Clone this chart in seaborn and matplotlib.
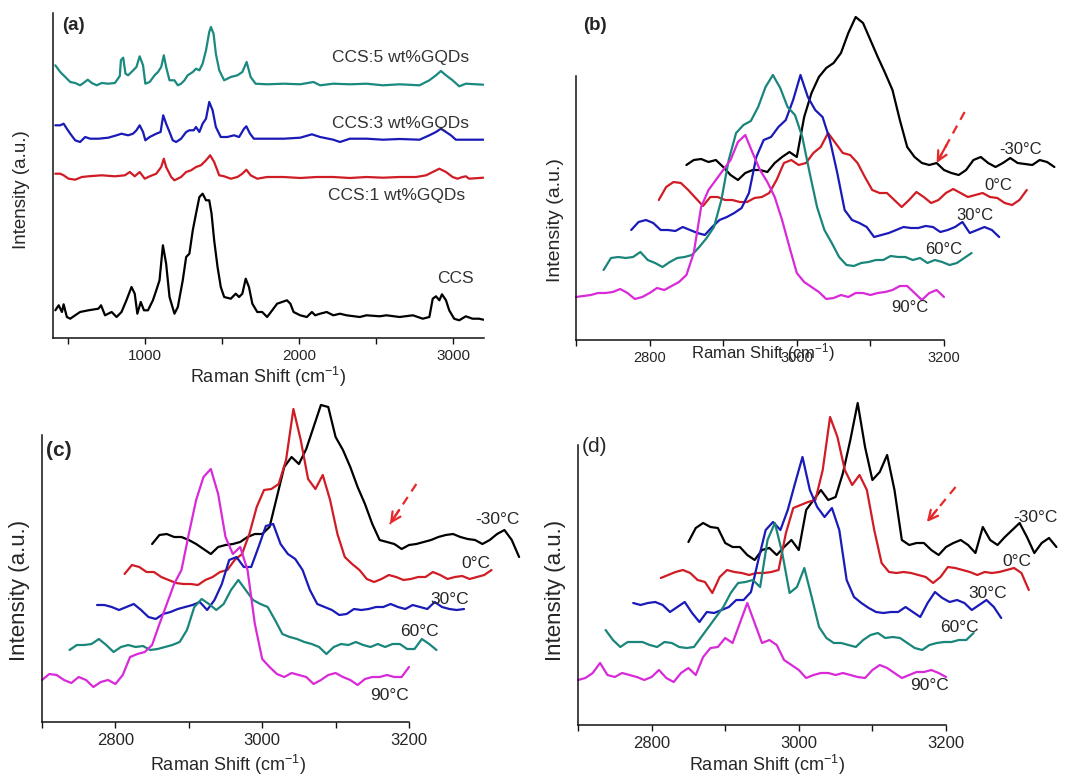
import numpy as np
import matplotlib
matplotlib.use("Agg")
import matplotlib.pyplot as plt
import seaborn as sns
from matplotlib import font_manager

# ------------------------------------------------------------------ data
# Panel (a): Raman spectra (x in cm-1, intensity in a.u., stacked as shown)
a_ccs_x = [415, 437, 458, 469, 490, 512, 544, 576, 630, 695, 712, 738, 781, 813, 845, 877, 910, 931, 948, 970,
           991, 1017, 1049, 1071, 1092, 1114, 1135, 1157, 1189, 1211, 1243, 1265, 1286, 1308, 1329, 1351, 1372, 1394, 1415, 1430,
           1447, 1469, 1490, 1512, 1555, 1587, 1609, 1630, 1652, 1673, 1695, 1727, 1759, 1791, 1824, 1856, 1888, 1920, 1942, 1963,
           2006, 2049, 2082, 2103, 2135, 2178, 2221, 2264, 2307, 2393, 2437, 2523, 2566, 2652, 2738, 2802, 2845, 2867, 2888, 2910,
           2927, 2953, 2974, 3006, 3039, 3082, 3125, 3168, 3196]
a_ccs_y = [27.7, 32.7, 26, 33.7, 21, 19.3, 22.7, 26, 27.7, 29.3, 32.7, 22.7, 26, 21, 26, 37.7, 51, 44.3, 24.3, 36,
           27.7, 27.7, 37.7, 47.7, 57.7, 92.7, 74.3, 41, 24.3, 31, 57.7, 81, 84.3, 107.7, 124.3, 141, 144.3, 137.7, 137.7, 124.3,
           97.7, 71, 51, 41, 39.3, 44.3, 41, 44.3, 59.3, 51, 34.3, 26, 26, 21, 27.7, 34.3, 36, 37.7, 34.3, 26,
           22.7, 21, 26, 22.7, 24.3, 26, 22.7, 24.3, 22.7, 21, 22.7, 21.7, 22.7, 21, 22.7, 19.3, 21, 39.3, 41.7, 37.7,
           43.7, 37.7, 27.7, 19.3, 17.7, 21.7, 19.3, 19.3, 18.3]

a_1wt_x = [415, 447, 469, 501, 544, 587, 630, 716, 802, 867, 899, 931, 963, 996, 1028, 1071, 1103, 1120, 1135, 1168,
           1189, 1232, 1265, 1297, 1329, 1361, 1394, 1421, 1447, 1480, 1512, 1555, 1598, 1630, 1656, 1684, 1727, 1791, 1899, 2006,
           2114, 2221, 2329, 2437, 2544, 2652, 2759, 2824, 2867, 2910, 2953, 2996, 3028, 3060, 3082, 3103, 3196]
a_1wt_y = [164.3, 164.3, 162.7, 159.3, 158.3, 161, 161.7, 162.7, 161.7, 162.7, 166, 161.7, 166, 159.3, 161.7, 164.3, 171, 179.3, 171, 161,
           157.7, 161, 166, 167.7, 171, 172.7, 177.7, 182.7, 176, 162.7, 161.7, 159.3, 161, 164.3, 168.3, 162.7, 159.3, 161, 161, 160,
           161, 161, 160, 161, 160.3, 161, 161, 162.7, 166, 169.3, 166, 161, 159.3, 161, 161.7, 159.3, 160.3]

a_3wt_x = [415, 447, 469, 490, 512, 544, 576, 609, 641, 695, 759, 813, 845, 888, 920, 942, 963, 985, 1000, 1028,
           1071, 1099, 1116, 1135, 1157, 1178, 1200, 1232, 1265, 1286, 1314, 1329, 1351, 1372, 1394, 1415, 1437, 1458, 1490, 1533,
           1576, 1609, 1641, 1656, 1680, 1705, 1791, 1899, 2006, 2082, 2135, 2221, 2264, 2329, 2437, 2544, 2652, 2781, 2845, 2888,
           2920, 2953, 2985, 3017, 3082, 3196]
a_3wt_y = [212.7, 212.7, 214.3, 209.3, 204.3, 197.7, 196, 201, 199.3, 199.3, 200.3, 202.7, 204.3, 202.7, 204.3, 207.7, 212.7, 206, 197.7, 201,
           204.3, 206, 222.7, 214.3, 206, 197.7, 196, 199.3, 206, 207.7, 207.7, 211, 206, 214.3, 219.3, 236, 227.7, 211, 201, 201,
           202.7, 201, 209.3, 211.7, 204.3, 199.3, 199.3, 199.3, 200.3, 203.7, 201, 198.3, 196, 199.3, 199.3, 198.3, 199, 198.3, 202.7, 206,
           209.3, 206, 202.7, 198.3, 198.3, 198.3]

a_5wt_x = [415, 447, 480, 512, 544, 576, 598, 626, 652, 684, 716, 759, 802, 834, 841, 856, 871, 888, 910, 942,
           963, 985, 1000, 1028, 1060, 1082, 1103, 1120, 1135, 1157, 1189, 1211, 1232, 1254, 1275, 1308, 1329, 1351, 1372, 1394,
           1415, 1426, 1443, 1458, 1480, 1512, 1555, 1598, 1630, 1658, 1684, 1716, 1791, 1899, 2006, 2092, 2135, 2221, 2329, 2437,
           2544, 2652, 2781, 2845, 2888, 2920, 2953, 2996, 3039, 3082, 3196]
a_5wt_y = [272.7, 266, 261, 256, 255, 252.7, 255, 258.3, 255, 252.7, 255, 254.3, 255, 262, 277.7, 280.3, 264.3, 262.7, 266, 271,
           281.7, 272.7, 254.3, 256, 262.7, 266, 271, 282.7, 271, 257.7, 257.7, 252.7, 254.3, 257.7, 262.7, 266, 269.3, 267.7, 274.3, 287.7,
           306, 311, 304.3, 284.3, 267.7, 257.7, 261, 262.7, 266, 276, 261, 254.3, 253.7, 254.3, 253.7, 256, 252.7, 254.3, 253.7, 254.3,
           252.7, 253.7, 252.7, 257.7, 262.7, 267, 262.7, 257.7, 251.7, 254.3, 253.3]

a_labels = ["CCS", "CCS:1 wt%GQDs", "CCS:3 wt%GQDs", "CCS:5 wt%GQDs"]

# Panels (b)-(d): temperature-dependent spectra, sampled every 10 cm-1 over 500 cm-1
temps = ["-30\u00b0C", "0\u00b0C", "30\u00b0C", "60\u00b0C", "90\u00b0C"]
shift_grid = np.arange(2700, 3201, 10)

b_m30 = [175, 180, 181, 178, 180, 173, 165, 160, 167, 170, 170, 168, 177, 183, 188, 183, 223, 247, 263, 272,
         277, 287, 307, 323, 317, 300, 283, 267, 250, 220, 193, 183, 177, 175, 177, 170, 167, 165, 170, 180,
         183, 177, 173, 177, 182, 177, 176, 175, 180, 178, 173]
b_0 = [140, 153, 158, 157, 150, 142, 134, 143, 143, 140, 140, 138, 138, 142, 143, 147, 160, 177, 180, 175,
       177, 187, 193, 207, 197, 187, 185, 177, 163, 150, 147, 147, 140, 133, 140, 148, 143, 137, 140, 147,
       151, 147, 143, 145, 147, 143, 142, 137, 135, 140, 150]
b_30 = [110, 118, 120, 117, 110, 110, 109, 113, 110, 107, 105, 113, 120, 123, 127, 132, 147, 183, 200, 203,
        213, 220, 240, 265, 243, 230, 223, 200, 167, 130, 120, 117, 113, 103, 105, 107, 110, 113, 112, 112,
        114, 113, 108, 110, 113, 118, 107, 110, 113, 110, 103]
b_60 = [70, 82, 83, 82, 83, 88, 80, 77, 73, 78, 82, 83, 85, 93, 102, 113, 140, 180, 207, 215,
        219, 233, 253, 265, 252, 233, 225, 203, 167, 133, 110, 97, 83, 75, 74, 77, 78, 80, 80, 84,
        83, 83, 80, 82, 77, 80, 78, 75, 77, 82, 87]
b_90 = [43, 44, 45, 47, 47, 48, 51, 47, 41, 43, 47, 52, 50, 54, 58, 65, 87, 133, 150, 160,
        170, 180, 198, 205, 187, 170, 158, 143, 120, 93, 67, 58, 53, 48, 41, 42, 45, 43, 47, 47,
        45, 47, 48, 50, 54, 54, 47, 40, 47, 50, 43]

c_m30 = [178, 187, 188, 185, 185, 182, 178, 173, 168, 175, 177, 178, 180, 185, 188, 188, 195, 225, 255, 265,
         258, 273, 295, 317, 315, 285, 272, 255, 235, 218, 198, 182, 180, 178, 173, 177, 178, 180, 182, 185,
         187, 188, 185, 183, 182, 178, 182, 188, 192, 182, 165]
c_0 = [148, 157, 155, 150, 150, 145, 142, 139, 138, 138, 137, 142, 145, 150, 152, 162, 168, 188, 215, 232,
       233, 238, 262, 313, 282, 243, 233, 247, 222, 188, 165, 158, 152, 143, 140, 143, 147, 145, 142, 143,
       145, 145, 150, 147, 143, 145, 146, 143, 145, 147, 152]
c_30 = [117, 117, 115, 112, 115, 118, 112, 105, 103, 108, 110, 113, 115, 117, 120, 112, 122, 138, 162, 165,
        155, 155, 175, 196, 198, 178, 168, 163, 152, 132, 118, 115, 112, 107, 108, 113, 112, 113, 115, 115,
        118, 115, 113, 117, 115, 113, 120, 115, 113, 112, 113]
c_60 = [72, 77, 77, 78, 83, 77, 70, 75, 77, 75, 76, 72, 73, 75, 77, 80, 92, 115, 123, 118,
        112, 118, 132, 142, 132, 122, 118, 115, 102, 88, 85, 83, 80, 78, 75, 68, 75, 78, 77, 80,
        77, 75, 78, 75, 78, 78, 73, 73, 83, 78, 72]
c_90 = [42, 48, 47, 42, 39, 45, 42, 35, 40, 42, 38, 47, 65, 68, 70, 77, 98, 118, 138, 152,
        188, 222, 245, 253, 228, 185, 168, 175, 152, 98, 63, 55, 48, 45, 49, 47, 45, 38, 42, 47,
        49, 45, 42, 37, 43, 45, 45, 47, 45, 45, 55]

d_m30 = [183, 197, 202, 198, 197, 182, 178, 178, 170, 165, 175, 177, 170, 178, 185, 175, 215, 225, 235, 225,
         228, 252, 285, 322, 278, 245, 253, 270, 235, 185, 180, 182, 182, 175, 170, 178, 182, 185, 180, 172,
         198, 185, 180, 188, 195, 202, 188, 172, 182, 187, 178]
d_0 = [147, 150, 153, 155, 152, 145, 143, 132, 148, 155, 153, 152, 150, 152, 152, 153, 155, 192, 217, 220,
       223, 225, 255, 308, 288, 255, 240, 250, 235, 195, 162, 153, 152, 153, 152, 150, 148, 142, 148, 158,
       157, 155, 153, 150, 153, 152, 153, 155, 157, 152, 135]
d_30 = [122, 120, 122, 123, 120, 113, 118, 123, 112, 103, 113, 112, 115, 118, 125, 125, 133, 165, 195, 203,
        195, 215, 242, 268, 235, 218, 208, 217, 195, 145, 128, 122, 117, 113, 112, 113, 113, 118, 113, 108,
        122, 133, 127, 123, 125, 122, 115, 120, 125, 118, 107]
d_60 = [95, 85, 78, 83, 83, 83, 80, 78, 83, 82, 78, 77, 78, 88, 98, 108, 118, 132, 142, 143,
        145, 138, 185, 202, 172, 132, 138, 157, 128, 98, 87, 82, 82, 80, 78, 85, 90, 92, 87, 88,
        87, 82, 77, 75, 80, 82, 83, 83, 85, 85, 92]
d_90 = [45, 47, 52, 62, 50, 48, 52, 50, 48, 45, 48, 55, 47, 43, 52, 57, 50, 68, 77, 78,
        87, 82, 102, 122, 102, 82, 85, 80, 65, 60, 55, 47, 50, 52, 52, 50, 52, 50, 48, 47,
        55, 60, 57, 52, 47, 50, 53, 53, 55, 52, 48]

# ------------------------------------------------------------------ style
sns.set_style("ticks")
names = {f.name for f in font_manager.fontManager.ttflist}
BASE = "Liberation Sans" if "Liberation Sans" in names else "DejaVu Sans"
NARROW = "Liberation Sans Narrow" if "Liberation Sans Narrow" in names else BASE
plt.rcParams["font.family"] = [BASE, "DejaVu Sans"]
plt.rcParams["mathtext.fontset"] = "custom"
plt.rcParams["mathtext.rm"] = BASE
plt.rcParams["mathtext.default"] = "regular"

COL = {"-30\u00b0C": "#000000", "0\u00b0C": "#d01c24", "30\u00b0C": "#1a1ab8",
       "60\u00b0C": "#1a857a", "90\u00b0C": "#d82ad8"}
A_COL = {"CCS": "#000000", "CCS:1 wt%GQDs": "#d01c24", "CCS:3 wt%GQDs": "#1a1ab8",
         "CCS:5 wt%GQDs": "#1a8a80"}
x_offsets = [150, 112.5, 75, 37.5, 0]
ARROW = "#e42a2a"
TXT = "#262626"

W, H = 1067, 778
fig = plt.figure(figsize=(W / 100, H / 100), dpi=100)


def add_axes_px(left, top, right, bottom):
    return fig.add_axes([left / W, 1 - bottom / H, (right - left) / W, (bottom - top) / H])


def style_axes(ax, major, minor, tick_fs, tick_font):
    sns.despine(ax=ax)
    for s in ("left", "bottom"):
        ax.spines[s].set_linewidth(1.1)
        ax.spines[s].set_color("#111111")
    ax.set_yticks([])
    ax.set_xticks(major)
    ax.set_xticks(minor, minor=True)
    ax.tick_params(axis="x", which="both", direction="out", length=4, width=1.0,
                   color="#111111", labelsize=tick_fs, labelcolor=TXT, pad=4)
    for lab in ax.get_xticklabels():
        lab.set_fontfamily(tick_font)


# ---------------- panel (a)
ax_a = add_axes_px(53, 13, 484, 338)
a_series = [(a_ccs_x, a_ccs_y), (a_1wt_x, a_1wt_y), (a_3wt_x, a_3wt_y), (a_5wt_x, a_5wt_y)]
for lab, (xs, ys) in zip(a_labels, a_series):
    sns.lineplot(x=xs, y=ys, ax=ax_a, color=A_COL[lab], lw=1.6, estimator=None, sort=False)
ax_a.set_xlim(400, 3200)
ax_a.set_ylim(0, 325)
style_axes(ax_a, [1000, 2000, 3000], [500, 1500, 2500], 11, BASE)
a_label_pos = {"CCS": (2895, 59), "CCS:1 wt%GQDs": (2187, 142),
               "CCS:3 wt%GQDs": (2212, 214), "CCS:5 wt%GQDs": (2212, 280)}
for lab in a_labels:
    ax_a.text(*a_label_pos[lab], lab, fontsize=12.5, color="#333333", ha="left", va="center")
ax_a.set_xlabel("Raman Shift (cm$^{-1}$)", fontsize=13, color=TXT)
ax_a.set_ylabel("Intensity (a.u.)", fontsize=13.5, color=TXT)
ax_a.xaxis.label.set_va("center")
ax_a.yaxis.label.set_va("center")
ax_a.xaxis.set_label_coords(0.499, -0.12)
ax_a.yaxis.set_label_coords(-0.072, 0.455)
fig.text(62 / W, 1 - 25 / H, "(a)", fontsize=13.5, fontweight="bold", va="center", ha="left", color=TXT)


# ---------------- panels (b)-(d)
def waterfall(ax, series, height, label_pos, arrow, tick_fs, tick_font, lab_fs, lab_font):
    for t, ys, dx in zip(temps, series, x_offsets):
        sns.lineplot(x=shift_grid + dx, y=ys, ax=ax, color=COL[t], lw=1.6,
                     estimator=None, sort=False, clip_on=False)
    ax.set_xlim(2700, 3200)
    ax.set_ylim(0, height)
    style_axes(ax, [2800, 3000, 3200], [2700, 2900, 3100], tick_fs, tick_font)
    for t in temps:
        ax.text(*label_pos[t], t, fontsize=lab_fs, fontfamily=lab_font, color=TXT,
                ha="left", va="center", clip_on=False)
    (tx, ty), (hx, hy) = arrow
    ax.plot([tx, hx], [ty, hy], color=ARROW, lw=1.6, ls=(0, (4, 3)), clip_on=False)
    ax.annotate("", xy=(hx, hy), xytext=(hx + (tx - hx) * 0.35, hy + (ty - hy) * 0.35),
                arrowprops=dict(arrowstyle="->", color=ARROW, lw=1.6, mutation_scale=17,
                                shrinkA=0, shrinkB=0),
                annotation_clip=False)


ax_b = add_axes_px(576, 76, 944, 340)
waterfall(ax_b, [b_m30, b_0, b_30, b_60, b_90], 264,
          {"-30\u00b0C": (3275, 190), "0\u00b0C": (3255, 155), "30\u00b0C": (3217, 125),
           "60\u00b0C": (3174, 90), "90\u00b0C": (3129, 32)},
          ((3228, 228), (3190, 177)), 10.5, BASE, 12, BASE)
ax_b.set_xlabel("Raman Shift (cm$^{-1}$)", fontsize=12, color=TXT)
ax_b.set_ylabel("Intensity (a.u.)", fontsize=14, color=TXT)
ax_b.xaxis.label.set_va("center")
ax_b.yaxis.label.set_va("center")
ax_b.xaxis.set_label_coords(0.508, -0.049)
ax_b.yaxis.set_label_coords(-0.057, 0.455)
fig.text(583 / W, 1 - 25 / H, "(b)", fontsize=13.5, fontweight="bold", va="center", ha="left", color=TXT)

ax_c = add_axes_px(42, 435, 409, 722)
waterfall(ax_c, [c_m30, c_0, c_30, c_60, c_90], 287,
          {"-30\u00b0C": (3290, 203), "0\u00b0C": (3272, 158), "30\u00b0C": (3229, 122),
           "60\u00b0C": (3188, 90), "90\u00b0C": (3147, 27)},
          ((3210, 238), (3174, 198)), 12, NARROW, 12.5, NARROW)
ax_c.set_xlabel("Raman Shift (cm$^{-1}$)", fontsize=13, fontfamily=NARROW, color=TXT)
ax_c.set_ylabel("Intensity (a.u.)", fontsize=16, color=TXT)
ax_c.xaxis.label.set_va("center")
ax_c.yaxis.label.set_va("center")
ax_c.xaxis.set_label_coords(0.507, -0.15)
ax_c.yaxis.set_label_coords(-0.06, 0.46)
fig.text(46 / W, 1 - 450 / H, "(c)", fontsize=15, fontweight="bold", va="center", ha="left", color=TXT)

ax_d = add_axes_px(578, 445, 946, 725)
waterfall(ax_d, [d_m30, d_0, d_30, d_60, d_90], 280,
          {"-30\u00b0C": (3292, 208), "0\u00b0C": (3276, 163), "30\u00b0C": (3230, 131),
           "60\u00b0C": (3192, 97), "90\u00b0C": (3151, 40)},
          ((3213, 238), (3174, 203)), 12, NARROW, 12.5, NARROW)
ax_d.set_xlabel("Raman Shift (cm$^{-1}$)", fontsize=13, fontfamily=NARROW, color=TXT)
ax_d.set_ylabel("Intensity (a.u.)", fontsize=16, color=TXT)
ax_d.xaxis.label.set_va("center")
ax_d.yaxis.label.set_va("center")
ax_d.xaxis.set_label_coords(0.514, -0.143)
ax_d.yaxis.set_label_coords(-0.0625, 0.482)
fig.text(582 / W, 1 - 447 / H, "(d)", fontsize=15, va="center", ha="left", color=TXT)

fig.savefig("out.png", dpi=100)
